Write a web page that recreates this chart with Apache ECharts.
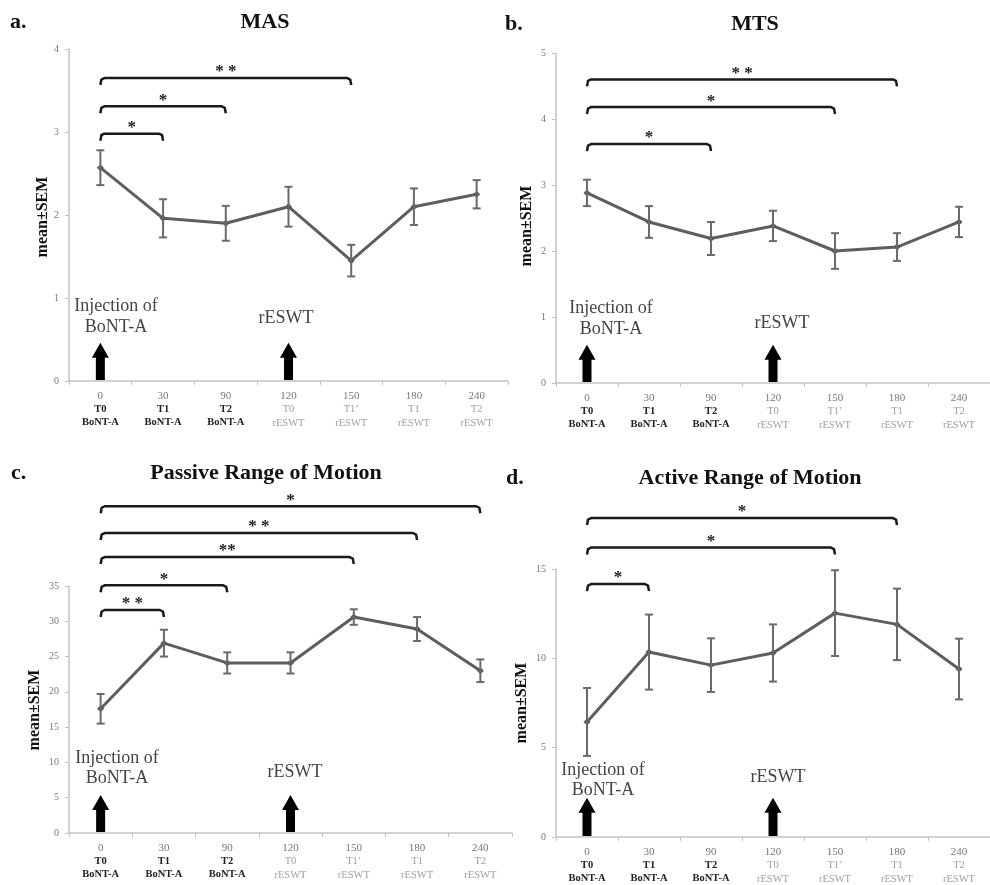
<!DOCTYPE html>
<html>
<head>
<meta charset="utf-8">
<script src="https://cdn.jsdelivr.net/npm/echarts@6/dist/echarts.min.js"></script>
<style>html,body{margin:0;padding:0;background:#fff}#c{width:990px;height:885px}</style>
</head>
<body>
<div id="c"></div>
<script>
// ---- data ----
var xNums = ['0', '30', '90', '120', '150', '180', '240'];
var xTimes = ['T0', 'T1', 'T2', 'T0', 'T1\u2019', 'T1', 'T2'];
var xPhase = ['BoNT-A', 'BoNT-A', 'BoNT-A', 'rESWT', 'rESWT', 'rESWT', 'rESWT'];

var masMean = [2.57, 1.96, 1.90, 2.10, 1.45, 2.10, 2.25];
var masSem  = [0.21, 0.23, 0.21, 0.24, 0.19, 0.22, 0.17];
var mtsMean = [2.88, 2.44, 2.19, 2.38, 2.00, 2.06, 2.44];
var mtsSem  = [0.20, 0.24, 0.25, 0.23, 0.27, 0.21, 0.23];
var promMean = [17.6, 26.9, 24.1, 24.1, 30.6, 28.9, 23.0];
var promSem  = [2.1, 1.9, 1.5, 1.5, 1.1, 1.7, 1.6];
var aromMean = [6.44, 10.35, 9.62, 10.3, 12.53, 11.9, 9.4];
var aromSem  = [1.9, 2.1, 1.5, 1.6, 2.4, 2.0, 1.7];

// brackets: [fromIndex, toIndex, level]
var masBrackets  = [[0, 1, 2.98], [0, 2, 3.31], [0, 4, 3.65]];
var masStars     = ['*', '*', '* *'];
var mtsBrackets  = [[0, 2, 3.62], [0, 4, 4.18], [0, 5, 4.60]];
var mtsStars     = ['*', '*', '* *'];
var promBrackets = [[0, 1, 31.6], [0, 2, 35.1], [0, 4, 39.1], [0, 5, 42.5], [0, 6, 46.3]];
var promStars    = ['* *', '*', '**', '* *', '*'];
var aromBrackets = [[0, 1, 14.16], [0, 4, 16.2], [0, 5, 17.85]];
var aromStars    = ['*', '*', '*'];

// arrows: [categoryIndex, tipValue]
var masArrows  = [[0, 0.46], [3, 0.46]];
var mtsArrows  = [[0, 0.58], [3, 0.58]];
var promArrows = [[0, 5.4], [3, 5.4]];
var aromArrows = [[0, 2.2], [3, 2.2]];

var yMax = [4, 5, 35, 15];
var yInt = [1, 1, 5, 5];

// ---- build ----
var SERIF = 'Liberation Serif';
var grids = [
  {left: 69, top: 49, width: 439, height: 332},
  {left: 556, top: 53, width: 443, height: 330},
  {left: 69, top: 586, width: 443, height: 247},
  {left: 556, top: 569, width: 437, height: 268}
];
var xAxes = [], yAxes = [], series = [];
var panels = [
  [masMean, masSem, masBrackets, masStars, masArrows],
  [mtsMean, mtsSem, mtsBrackets, mtsStars, mtsArrows],
  [promMean, promSem, promBrackets, promStars, promArrows],
  [aromMean, aromSem, aromBrackets, aromStars, aromArrows]
];
var rich = {
  n:  {fontFamily: SERIF, fontSize: 11, color: '#777', lineHeight: 13.5},
  tb: {fontFamily: SERIF, fontSize: 10.5, color: '#222', fontWeight: 'bold', lineHeight: 13.5},
  tg: {fontFamily: SERIF, fontSize: 10.5, color: '#a0a0a0', lineHeight: 13.5},
  pb: {fontFamily: SERIF, fontSize: 10.5, color: '#222', fontWeight: 'bold', lineHeight: 13.5},
  pg: {fontFamily: SERIF, fontSize: 10.5, color: '#a0a0a0', lineHeight: 13.5}
};
panels.forEach(function (p, k) {
  xAxes.push({
    type: 'category', gridIndex: k, data: xNums, boundaryGap: true,
    axisLine: {lineStyle: {color: '#c4c4c4', width: 1.5}},
    axisTick: {show: true, length: 4, lineStyle: {color: '#c4c4c4'}},
    axisLabel: {
      margin: 8, interval: 0,
      formatter: function (v, i) {
        var s = i < 3 ? 'b' : 'g';
        return '{n|' + xNums[i] + '}\n{t' + s + '|' + xTimes[i] + '}\n{p' + s + '|' + xPhase[i] + '}';
      },
      rich: rich
    }
  });
  yAxes.push({
    type: 'value', gridIndex: k, min: 0, max: yMax[k], interval: yInt[k],
    splitLine: {show: false},
    axisLine: {show: true, lineStyle: {color: '#c4c4c4', width: 1.5}},
    axisTick: {show: true, length: 4, lineStyle: {color: '#c4c4c4'}},
    axisLabel: {fontFamily: SERIF, fontSize: 10, color: '#777', margin: 10}
  });
  var mean = p[0], sem = p[1];
  // arrows
  series.push({
    type: 'custom', xAxisIndex: k, yAxisIndex: k, silent: true, z: 3,
    data: p[4],
    renderItem: function (params, api) {
      var c = api.value(0), t = api.value(1);
      var b = api.coord([c, 0]), tp = api.coord([c, t]);
      var x = b[0], hy = tp[1] + 15;
      return {type: 'polygon', shape: {points: [
        [x, tp[1]], [x + 8.5, hy], [x + 4.5, hy], [x + 4.5, b[1] - 1],
        [x - 4.5, b[1] - 1], [x - 4.5, hy], [x - 8.5, hy]
      ]}, style: {fill: '#000'}};
    }
  });
  // line
  series.push({
    type: 'line', xAxisIndex: k, yAxisIndex: k, data: mean, z: 4,
    symbol: 'diamond', symbolSize: 7, showSymbol: true,
    itemStyle: {color: '#5a5a5a'},
    lineStyle: {color: '#5e5e5e', width: 3}
  });
  // error bars
  series.push({
    type: 'custom', xAxisIndex: k, yAxisIndex: k, silent: true, z: 5,
    data: mean.map(function (m, i) { return [i, m, sem[i]]; }),
    renderItem: function (params, api) {
      var i = api.value(0), m = api.value(1), s = api.value(2);
      var hi = api.coord([i, m + s]), lo = api.coord([i, m - s]);
      var st = {stroke: '#6a6a6a', lineWidth: 2};
      return {type: 'group', children: [
        {type: 'line', shape: {x1: hi[0], y1: hi[1], x2: lo[0], y2: lo[1]}, style: st},
        {type: 'line', shape: {x1: hi[0] - 4, y1: hi[1], x2: hi[0] + 4, y2: hi[1]}, style: st},
        {type: 'line', shape: {x1: lo[0] - 4, y1: lo[1], x2: lo[0] + 4, y2: lo[1]}, style: st}
      ]};
    }
  });
  // significance brackets
  var stars = p[3];
  series.push({
    type: 'custom', xAxisIndex: k, yAxisIndex: k, silent: true, z: 6, clip: false,
    data: p[2].map(function (b, j) { return [b[0], b[2], b[1], j]; }),
    renderItem: function (params, api) {
      var f = api.value(0), y = api.value(1), t = api.value(2), j = api.value(3);
      var a = api.coord([f, y]), c = api.coord([t, y]);
      var yy = a[1];
      return {type: 'group', children: [
        {type: 'polyline', shape: {points: [[a[0], yy + 7], [a[0] + 1, yy + 1.5], [a[0] + 4, yy], [c[0] - 4, yy], [c[0] - 1, yy + 1.5], [c[0], yy + 7]]},
         style: {stroke: '#1a1a1a', lineWidth: 2.5, fill: null, lineJoin: 'round'}},
        {type: 'text', x: (a[0] + c[0]) / 2, y: yy - 6,
         style: {text: stars[j], fontFamily: SERIF, fontSize: 17, fontWeight: 'bold', fill: '#222', align: 'center', verticalAlign: 'middle'}}
      ]};
    }
  });
});

function txt(t, x, y, size, bold, color, align, rot) {
  return {type: 'text', x: x, y: y, rotation: rot || 0, z: 10,
    style: {text: t, fontFamily: SERIF, fontSize: size, fontWeight: bold ? 'bold' : 'normal',
      fill: color, align: align || 'center', verticalAlign: 'middle'}};
}
var graphics = [
  txt('a.', 10, 22, 22, true, '#111', 'left'),
  txt('MAS', 265, 22, 22, true, '#111'),
  txt('b.', 505, 24, 22, true, '#111', 'left'),
  txt('MTS', 755, 24, 22, true, '#111'),
  txt('c.', 11, 473, 22, true, '#111', 'left'),
  txt('Passive Range of Motion', 266, 473, 22, true, '#111'),
  txt('d.', 506, 478, 22, true, '#111', 'left'),
  txt('Active Range of Motion', 750, 478, 22, true, '#111'),
  txt('mean\u00B1SEM', 43, 217, 16, true, '#111', 'center', Math.PI / 2),
  txt('mean\u00B1SEM', 527, 226, 16, true, '#111', 'center', Math.PI / 2),
  txt('mean\u00B1SEM', 35, 710, 16, true, '#111', 'center', Math.PI / 2),
  txt('mean\u00B1SEM', 522, 703, 16, true, '#111', 'center', Math.PI / 2),
  txt('Injection of', 116, 306, 18, false, '#444'),
  txt('BoNT-A', 116, 327, 18, false, '#444'),
  txt('rESWT', 286, 318, 18, false, '#444'),
  txt('Injection of', 611, 308, 18, false, '#444'),
  txt('BoNT-A', 611, 329, 18, false, '#444'),
  txt('rESWT', 782, 323, 18, false, '#444'),
  txt('Injection of', 117, 758, 18, false, '#444'),
  txt('BoNT-A', 117, 778, 18, false, '#444'),
  txt('rESWT', 295, 772, 18, false, '#444'),
  txt('Injection of', 603, 770, 18, false, '#444'),
  txt('BoNT-A', 603, 790, 18, false, '#444'),
  txt('rESWT', 778, 777, 18, false, '#444')
];

var chart = echarts.init(document.getElementById('c'), null, {renderer: 'canvas'});
chart.setOption({
  backgroundColor: '#fff',
  animation: false,
  grid: grids,
  xAxis: xAxes,
  yAxis: yAxes,
  series: series,
  graphic: graphics
});
</script>
</body>
</html>
